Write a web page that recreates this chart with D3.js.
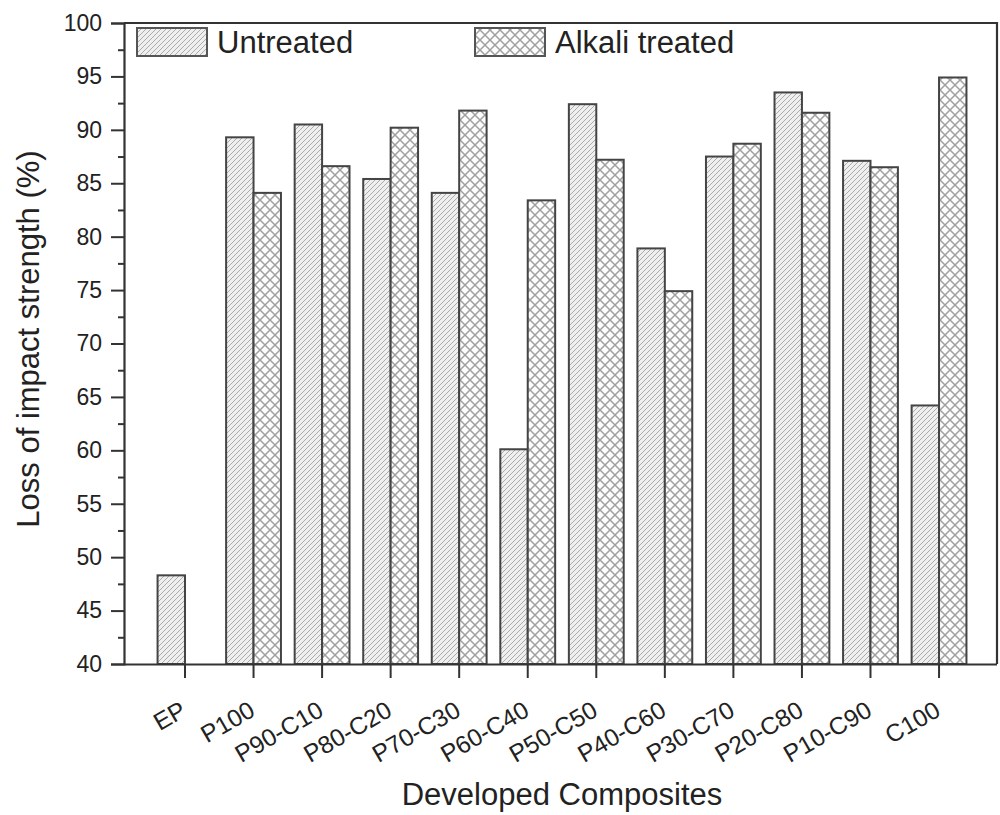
<!DOCTYPE html>
<html>
<head>
<meta charset="utf-8">
<script src="https://cdn.jsdelivr.net/npm/d3@7"></script>
<style>
  html, body { margin: 0; padding: 0; background: #fff; }
  svg { display: block; font-family: "Liberation Sans", Arial, sans-serif; }
</style>
</head>
<body>
<svg id="chart" width="1000" height="815"></svg>
<script>
// Loss of impact strength for the developed composites
const categories = ["EP", "P100", "P90-C10", "P80-C20", "P70-C30", "P60-C40",
  "P50-C50", "P40-C60", "P30-C70", "P20-C80", "P10-C90", "C100"];
const untreated = [48.3, 89.3, 90.5, 85.4, 84.1, 60.1, 92.4, 78.9, 87.5, 93.5, 87.1, 64.2];
const alkaliTreated = [null, 84.1, 86.6, 90.2, 91.8, 83.4, 87.2, 74.9, 88.7, 91.6, 86.5, 94.9];
const seriesNames = ["Untreated", "Alkali treated"];
const yTicks = [40, 45, 50, 55, 60, 65, 70, 75, 80, 85, 90, 95, 100];
const yMinorTicks = [42.5, 47.5, 52.5, 57.5, 62.5, 67.5, 72.5, 77.5, 82.5, 87.5, 92.5, 97.5];

const svg = d3.select("#chart");
const ink = "#333";
const plotLeft = 124, plotRight = 997, plotTop = 23, plotBottom = 664;

const x = d3.scaleBand().domain(categories).range([plotLeft, plotRight])
  .paddingInner(0).paddingOuter(0.3676).align(0.53);
const y = d3.scaleLinear().domain([40, 100]).range([plotBottom, plotTop]);
const bw = x.step() * 0.4;

// fill patterns
const defs = svg.append("defs");
const hatch = defs.append("pattern").attr("id", "hatch")
  .attr("patternUnits", "userSpaceOnUse").attr("width", 5).attr("height", 5);
hatch.append("rect").attr("width", 5).attr("height", 5).attr("fill", "#efefef");
hatch.append("path").attr("d", "M-1,6 L6,-1 M-1,1 L1,-1 M4,6 L6,4")
  .attr("stroke", "#ababab").attr("stroke-width", 1);

const cross = defs.append("pattern").attr("id", "cross")
  .attr("patternUnits", "userSpaceOnUse").attr("width", 10).attr("height", 10);
cross.append("rect").attr("width", 10).attr("height", 10).attr("fill", "#fdfdfd");
cross.append("path").attr("d", "M0,0 L10,10 M10,0 L0,10")
  .attr("stroke", "#a0a0a0").attr("stroke-width", 1.5);

const fills = ["url(#hatch)", "url(#cross)"];

// bars
const rows = categories.map((c, i) => ({ c, u: untreated[i], t: alkaliTreated[i] }));
const g = svg.append("g");
g.selectAll("rect.u").data(rows).join("rect").attr("class", "u")
  .attr("x", d => x(d.c) + x.bandwidth() / 2 - bw)
  .attr("y", d => y(d.u)).attr("width", bw)
  .attr("height", d => y(40) - y(d.u))
  .attr("fill", fills[0]).attr("stroke", "#444").attr("stroke-width", 2);
g.selectAll("rect.t").data(rows.filter(d => d.t != null)).join("rect").attr("class", "t")
  .attr("x", d => x(d.c) + x.bandwidth() / 2)
  .attr("y", d => y(d.t)).attr("width", bw)
  .attr("height", d => y(40) - y(d.t))
  .attr("fill", fills[1]).attr("stroke", "#444").attr("stroke-width", 2);

// frame
svg.append("path")
  .attr("d", `M${plotLeft},${plotTop} H${plotRight} V${plotBottom}`)
  .attr("fill", "none").attr("stroke", ink).attr("stroke-width", 2.2);

// y axis
const yAxis = svg.append("g").attr("transform", `translate(${plotLeft},0)`)
  .call(d3.axisLeft(y).tickValues(yTicks).tickSize(13).tickPadding(9).tickFormat(d3.format("d")));
svg.append("g").attr("transform", `translate(${plotLeft},0)`)
  .call(d3.axisLeft(y).tickValues(yMinorTicks).tickSize(6).tickFormat(""))
  .call(s => s.select(".domain").remove())
  .selectAll("line").attr("stroke", ink).attr("stroke-width", 2);
yAxis.select(".domain").attr("stroke", ink).attr("stroke-width", 2.2);
yAxis.selectAll("line").attr("stroke", ink).attr("stroke-width", 2);
yAxis.selectAll("text").attr("font-size", 23).attr("fill", "#222")
  .attr("font-family", "Liberation Sans, Arial, sans-serif");

// x axis
const xAxis = svg.append("g").attr("transform", `translate(0,${plotBottom})`)
  .call(d3.axisBottom(x).tickSize(14).tickSizeOuter(0));
xAxis.select(".domain").attr("stroke", ink).attr("stroke-width", 2.2)
  .attr("d", `M${plotLeft},0.5 H${plotRight}`);
xAxis.selectAll("line").attr("stroke", ink).attr("stroke-width", 2);
xAxis.selectAll("text").attr("font-size", 24.5).attr("fill", "#222")
  .attr("font-family", "Liberation Sans, Arial, sans-serif")
  .attr("text-anchor", "end").attr("dy", null).attr("y", null)
  .attr("transform", "translate(3,51) rotate(-30)");

// axis titles
svg.append("text").attr("x", 562).attr("y", 805).attr("text-anchor", "middle")
  .attr("font-size", 31).attr("fill", "#222").text("Developed Composites");
svg.append("text").attr("transform", "translate(39,339) rotate(-90)")
  .attr("text-anchor", "middle").attr("font-size", 31).attr("fill", "#222")
  .text("Loss of impact strength (%)");

// legend
const legendX = [137, 475];
seriesNames.forEach((name, i) => {
  svg.append("rect").attr("x", legendX[i]).attr("y", 28).attr("width", 70).attr("height", 28)
    .attr("fill", fills[i]).attr("stroke", "#555").attr("stroke-width", 2);
  svg.append("text").attr("x", legendX[i] + 80).attr("y", 53)
    .attr("font-size", 31).attr("fill", "#222").text(name);
});
</script>
</body>
</html>
